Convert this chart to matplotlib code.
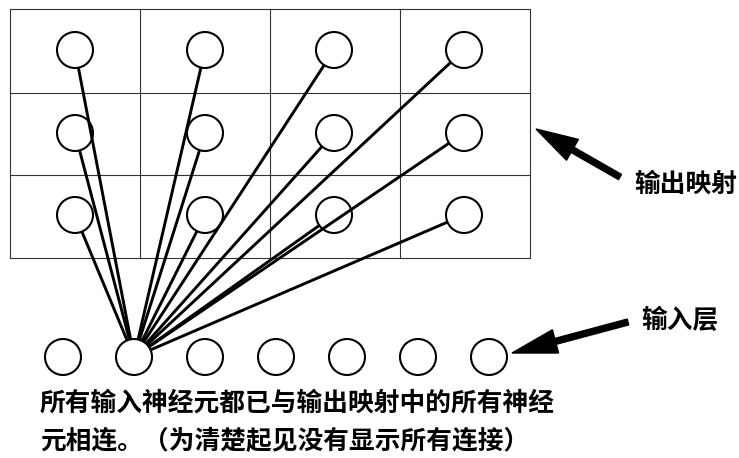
import numpy as np
import matplotlib
matplotlib.use("Agg")
import matplotlib.pyplot as plt
from matplotlib.patches import Circle, FancyArrow

plt.rcParams['font.family'] = ['Noto Sans CJK SC', 'DejaVu Sans']

# 网格（像素坐标）
grid_x = [10, 140, 270, 400, 530]
grid_y = [9, 93, 175, 258]
# 输出映射神经元中心
out_cols = [75, 205, 334, 464]
out_rows = [50, 133, 215]
# 输入层神经元中心
in_x = [63, 134, 205, 276, 347, 418, 489]
in_y = 357
src_idx = 1  # 与所有输出相连的输入神经元
radius = 18

label_out = '输出映射'
label_in = '输入层'
caption = ['所有输入神经元都已与输出映射中的所有神经',
           '元相连。（为清楚起见没有显示所有连接）']

fig = plt.figure(figsize=(7.39, 4.58), dpi=100)
ax = fig.add_axes([0, 0, 1, 1])
ax.set_xlim(0, 739)
ax.set_ylim(458, 0)
ax.axis('off')

# 网格线
for gx in grid_x:
    ax.plot([gx, gx], [grid_y[0], grid_y[-1]], color='#333333', lw=0.8)
for gy in grid_y:
    ax.plot([grid_x[0], grid_x[-1]], [gy, gy], color='#333333', lw=0.8)

# 连接线（圆边到圆边）
sx, sy = in_x[src_idx], in_y
for cx in out_cols:
    for cy in out_rows:
        d = np.array([cx - sx, cy - sy], dtype=float)
        d /= np.hypot(*d)
        p0 = np.array([sx, sy]) + d * radius
        p1 = np.array([cx, cy]) - d * radius
        ax.plot([p0[0], p1[0]], [p0[1], p1[1]], color='black', lw=2.1,
                solid_capstyle='butt', zorder=3)

# 神经元
for cx in out_cols:
    for cy in out_rows:
        ax.add_patch(Circle((cx, cy), radius, fill=False, ec='black', lw=1.5, zorder=2))
for x in in_x:
    ax.add_patch(Circle((x, in_y), radius, fill=False, ec='black', lw=1.5, zorder=2))

# 箭头
ax.add_patch(FancyArrow(620, 177, -84, -48, width=6, head_width=24, head_length=42,
                        length_includes_head=True, color='black'))
ax.add_patch(FancyArrow(628, 322, -116, 31, width=6, head_width=24, head_length=45,
                        length_includes_head=True, color='black'))

fs = 18.5
ax.text(634, 184, label_out, fontsize=fs, fontweight='bold', va='center', ha='left')
ax.text(641, 320, label_in, fontsize=fs, fontweight='bold', va='center', ha='left')
ax.text(40, 403, caption[0], fontsize=fs, fontweight='bold', va='center', ha='left')
ax.text(40, 442, caption[1], fontsize=fs, fontweight='bold', va='center', ha='left')

fig.savefig('out.png', dpi=100, facecolor='white')
